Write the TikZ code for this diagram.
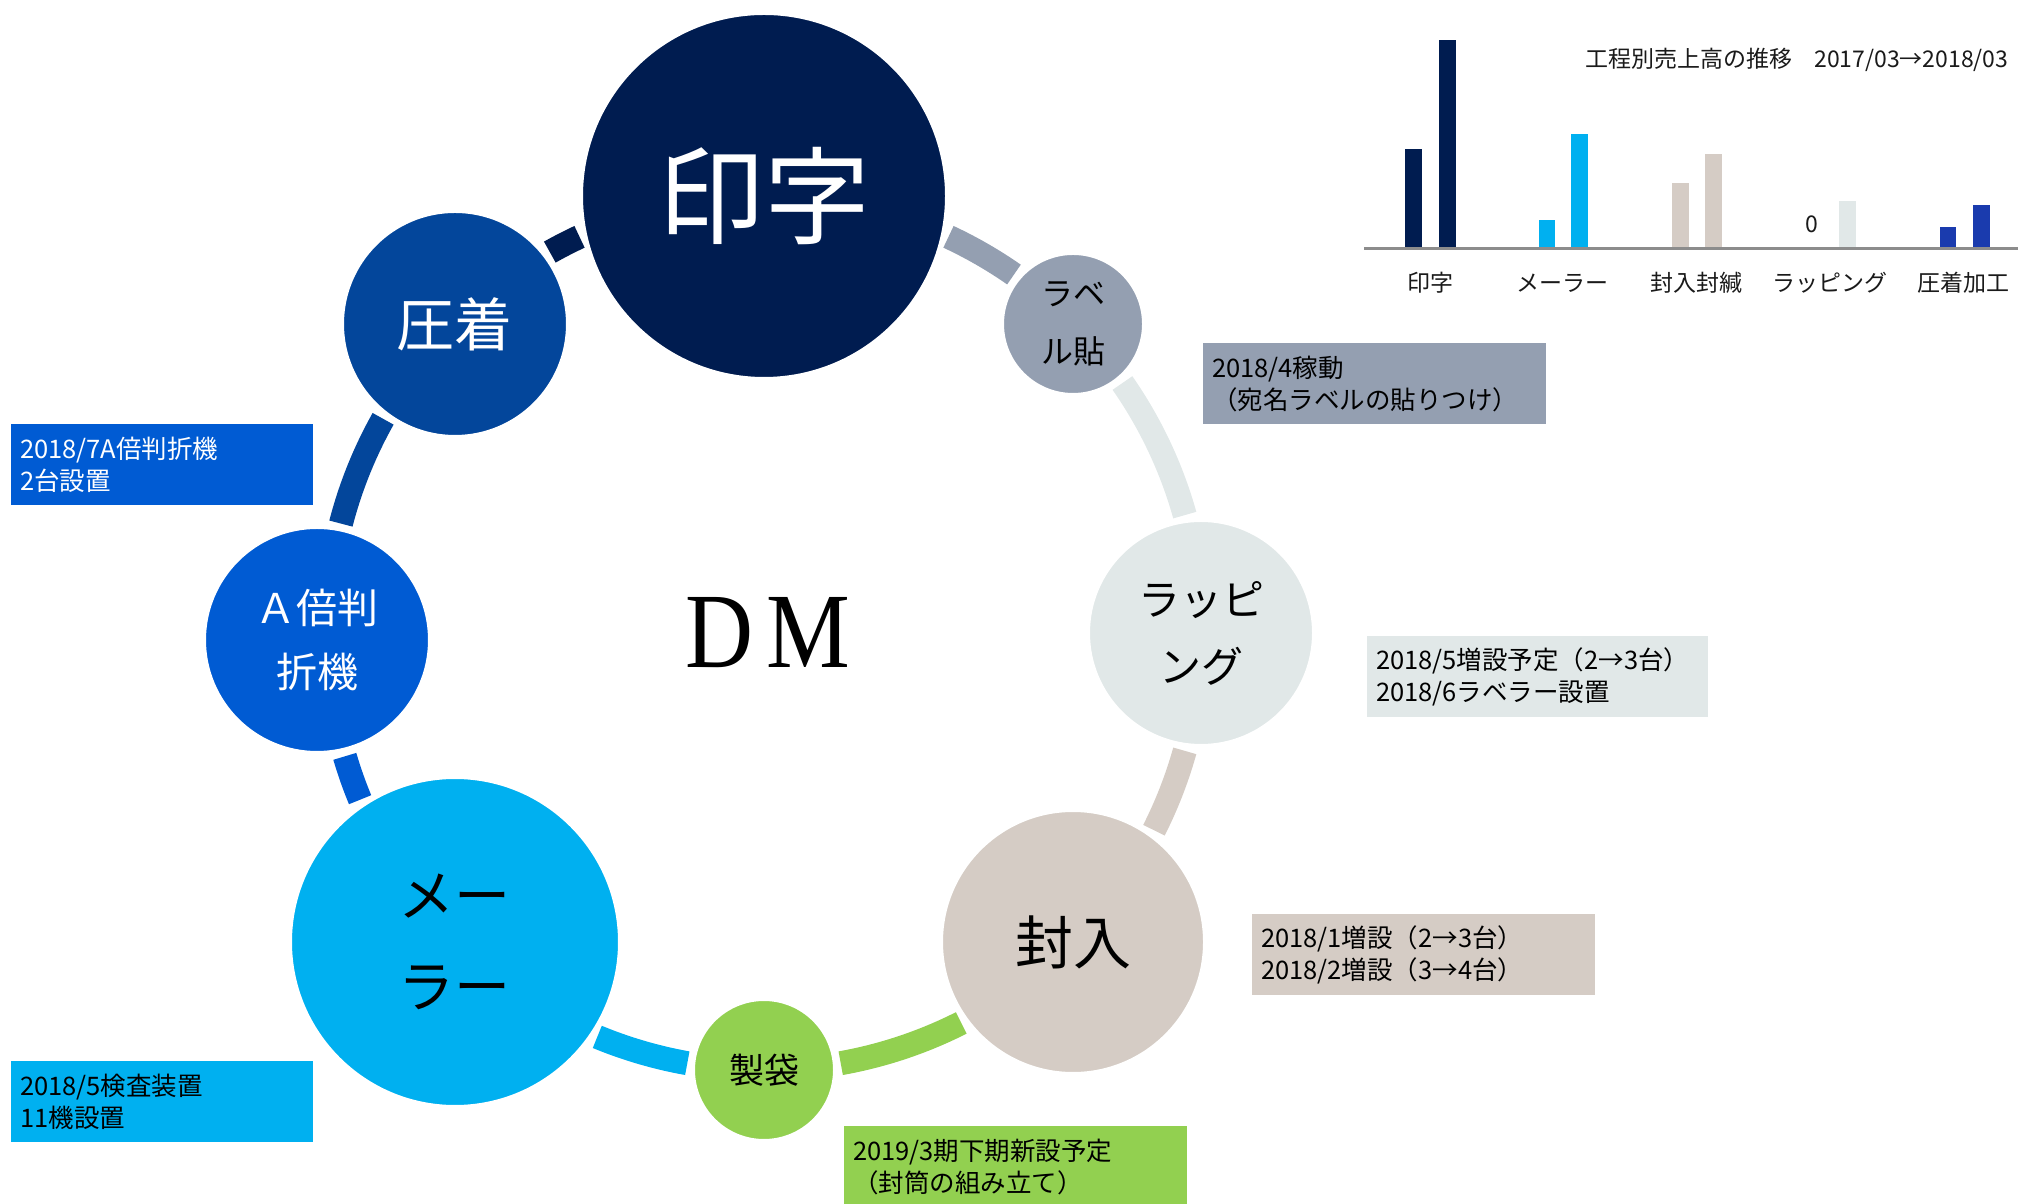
\documentclass[tikz,border=0pt]{standalone}
\usepackage{fontspec}
\setmainfont{Noto Sans CJK JP}
\newfontfamily\dmfont{Liberation Serif}
\usetikzlibrary{calc}
\definecolor{cInji}{HTML}{001C50}
\definecolor{cLabel}{HTML}{949FB1}
\definecolor{cWrap}{HTML}{E1E8E8}
\definecolor{cFuny}{HTML}{D5CCC5}
\definecolor{cSeitai}{HTML}{92D050}
\definecolor{cMailer}{HTML}{00B0F0}
\definecolor{cAbai}{HTML}{005BD3}
\definecolor{cAtchaku}{HTML}{03469B}
\definecolor{cBar}{HTML}{1A3BAE}
\definecolor{cAxis}{HTML}{8C8C8C}
\definecolor{cText}{HTML}{1A1A1A}
\begin{document}
\begin{tikzpicture}[x=1pt,y=1pt,
  proc/.style={circle, inner sep=0pt, draw=white, line width=4pt, align=center},
  ringarc/.style={line width=24pt},
  infobox/.style={anchor=north west, inner sep=9pt, minimum height=81pt, align=left,
    font=\fontsize{25.5}{32}\selectfont},
  chartlabel/.style={font=\fontsize{23}{26}\selectfont, text=cText}]
\useasboundingbox (0,0) rectangle (2018,1204);
\coordinate (O) at (764,571);
\def\R{437}
% ring segments
\draw[ringarc, cLabel]   ($(O)+(65.03:\R)$)  arc[start angle=65.03,  end angle=55.11,  radius=\R];
\draw[ringarc, cWrap]    ($(O)+(34.89:\R)$)  arc[start angle=34.89,  end angle=15.65,  radius=\R];
\draw[ringarc, cFuny]    ($(O)+(-15.65:\R)$) arc[start angle=-15.65, end angle=-26.83, radius=\R];
\draw[ringarc, cSeitai]  ($(O)+(-63.17:\R)$) arc[start angle=-63.17, end angle=-79.89, radius=\R];
\draw[ringarc, cMailer]  ($(O)+(-100.11:\R)$) arc[start angle=-100.11, end angle=-112.43, radius=\R];
\draw[ringarc, cAbai]    ($(O)+(-157.57:\R)$) arc[start angle=-157.57, end angle=-163.6, radius=\R];
\draw[ringarc, cAtchaku] ($(O)+(165.5:\R)$) arc[start angle=165.5, end angle=150.65, radius=\R];
\draw[ringarc, cInji]    ($(O)+(119.35:\R)$) arc[start angle=119.35, end angle=114.97, radius=\R];
% process circles
\node[proc, minimum size=366pt, fill=cInji, text=white, font=\fontsize{106}{110}\selectfont] (inji) at ($(O)+(90:\R)$) {印字};
\node[proc, minimum size=142pt, fill=cLabel, text=black, font=\fontsize{32}{58}\selectfont] (label) at ($(O)+(45:\R)$) {ラベ\\ル貼};
\node[proc, minimum size=226pt, fill=cWrap, text=black, font=\fontsize{42}{67}\selectfont] (wrap) at ($(O)+(0:\R)$) {ラッピ\\ング};
\node[proc, minimum size=264pt, fill=cFuny, text=black, font=\fontsize{58}{70}\selectfont] (funy) at ($(O)+(-45:\R)$) {封入};
\node[proc, minimum size=142pt, fill=cSeitai, text=black, font=\fontsize{35}{40}\selectfont] (seitai) at ($(O)+(-90:\R)$) {製袋};
\node[proc, minimum size=330pt, fill=cMailer, text=black, font=\fontsize{56}{91}\selectfont] (mailer) at ($(O)+(-135:\R)$) {メー\\ラー};
\node[proc, minimum size=226pt, fill=cAbai, text=white, font=\fontsize{41}{64}\selectfont] (abai) at (317,564) {Ａ倍判\\折機};
\node[proc, minimum size=226pt, fill=cAtchaku, text=white, font=\fontsize{58}{70}\selectfont] (atchaku) at ($(O)+(135:\R)$) {圧着};
% centre title
\node[text=black] (dm) at (768,571) {\dmfont\fontsize{107}{110}\selectfont\scalebox{0.88}[1]{D\hspace{14pt}M}};
% info boxes
\node[infobox, fill=cLabel, text width=325pt, text=black] (bLabel) at (1203,861) {2018/4稼動\\（宛名ラベルの貼りつけ）};
\node[infobox, fill=cWrap, text width=323pt, text=black] (bWrap) at (1367,568) {2018/5増設予定（2→3台）\\2018/6ラベラー設置};
\node[infobox, fill=cFuny, text width=325pt, text=black] (bFuny) at (1252,290) {2018/1増設（2→3台）\\2018/2増設（3→4台）};
\node[infobox, fill=cSeitai, text width=325pt, text=black] (bSeitai) at (844,78) {2019/3期下期新設予定\\（封筒の組み立て）};
\node[infobox, fill=cAbai, text width=284pt, text=white] (bAbai) at (11,780) {2018/7A倍判折機\\2台設置};
\node[infobox, fill=cMailer, text width=284pt, text=black] (bMailer) at (11,143) {2018/5検査装置\\11機設置};
% chart
\node[chartlabel, anchor=east] (ctitle) at (2012,1144) {工程別売上高の推移\hspace{22pt}2017/03→2018/03};
\fill[cInji]    (1405,956) rectangle (1422,1055);
\fill[cInji]    (1439,956) rectangle (1456,1164);
\fill[cMailer]  (1539,956) rectangle (1555,984);
\fill[cMailer]  (1571,956) rectangle (1588,1070);
\fill[cFuny]    (1672,956) rectangle (1689,1021);
\fill[cFuny]    (1705,956) rectangle (1722,1050);
\fill[cWrap]    (1839,956) rectangle (1856,1003);
\fill[cBar]     (1940,956) rectangle (1956,977);
\fill[cBar]     (1973,956) rectangle (1990,999);
\node[chartlabel] (zero) at (1812,980) {0};
\draw[cAxis, line width=3pt] (1364,955) -- (2018,955);
\node[chartlabel] (lInji) at (1430,921) {印字};
\node[chartlabel] (lMailer) at (1562,921) {メーラー};
\node[chartlabel] (lFuny) at (1696,921) {封入封緘};
\node[chartlabel] (lWrap) at (1830,921) {ラッピング};
\node[chartlabel] (lAtchaku) at (1963,921) {圧着加工};
\end{tikzpicture}
\end{document}
